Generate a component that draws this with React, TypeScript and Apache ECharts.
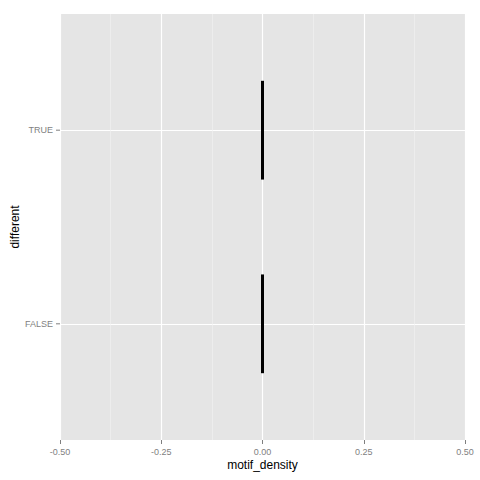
import React, { useEffect, useRef } from "react";
import * as echarts from "echarts";

const categories = ["FALSE", "TRUE"];
const motifDensity = [0, 0];
const xTicks = [-0.5, -0.25, 0, 0.25, 0.5];

export default function App() {
  const ref = useRef<HTMLDivElement>(null);
  useEffect(() => {
    if (!ref.current) return;
    const chart = echarts.init(ref.current, null, { renderer: "svg" });
    const catPos = categories.map((_, i) => i + 1);
    const option: any = {
      animation: false,
      backgroundColor: "#ffffff",
      grid: {
        left: 60,
        right: 15,
        top: 14,
        bottom: 40,
        show: true,
        backgroundColor: "#e5e5e5",
        borderWidth: 0,
        containLabel: false,
        outerBoundsMode: "none",
      },
      xAxis: {
        type: "value",
        min: xTicks[0],
        max: xTicks[xTicks.length - 1],
        interval: 0.25,
        name: "motif_density",
        nameLocation: "middle",
        nameGap: 19,
        nameMoveOverlap: false,
        nameTextStyle: { color: "#000", fontSize: 12, fontFamily: "Liberation Sans, Arial" },
        axisLine: { show: false },
        axisTick: { show: true, length: 4, lineStyle: { color: "#7f7f7f", width: 1 } },
        axisLabel: {
          color: "#7f7f7f",
          fontSize: 9,
          fontFamily: "Liberation Sans, Arial",
          margin: 7,
          showMinLabel: true,
          showMaxLabel: true,
          hideOverlap: false,
          overflow: "none",
          formatter: (v: number) => v.toFixed(2),
        },
        splitLine: { show: true, lineStyle: { color: "#ffffff", width: 1.2 } },
        minorTick: { show: false, splitNumber: 2 },
        minorSplitLine: { show: true, lineStyle: { color: "#f2f2f2", width: 0.6 } },
      },
      yAxis: {
        type: "value",
        min: 0.4,
        max: 2.6,
        name: "different",
        nameLocation: "middle",
        nameGap: 39,
        nameRotate: 90,
        nameMoveOverlap: false,
        nameTextStyle: { color: "#000", fontSize: 12, fontFamily: "Liberation Sans, Arial" },
        axisLine: { show: false },
        axisTick: { show: false, customValues: catPos },
        axisLabel: {
          color: "#7f7f7f",
          fontSize: 9,
          fontFamily: "Liberation Sans, Arial",
          margin: 7,
          customValues: catPos,
          formatter: (v: number) => categories[Math.round(v) - 1] ?? "",
        },
        splitLine: { show: true, lineStyle: { color: "#ffffff", width: 1.2 } },
      },
      series: [
        {
          type: "custom",
          clip: false,
          data: catPos.map((p) => [xTicks[0], p]),
          renderItem: (params: any, api: any) => {
            const pt = api.coord([api.value(0), api.value(1)]);
            return {
              type: "line",
              shape: { x1: pt[0] - 4, y1: pt[1], x2: pt[0], y2: pt[1] },
              style: { stroke: "#7f7f7f", lineWidth: 1 },
            };
          },
        },
        {
          type: "custom",
          data: motifDensity.map((v, i) => [v, i + 1]),
          renderItem: (params: any, api: any) => {
            const x = api.value(0);
            const y = api.value(1);
            const top = api.coord([x, y + 0.255]);
            const bot = api.coord([x, y - 0.255]);
            return {
              type: "rect",
              shape: { x: top[0] - 1.5, y: top[1], width: 3, height: bot[1] - top[1] },
              style: { fill: "#000000" },
            };
          },
        },
      ],
    };
    chart.setOption(option);
    return () => chart.dispose();
  }, []);
  return (
    <div
      ref={ref}
      style={{ position: "fixed", left: 0, top: 0, width: 480, height: 480 }}
    />
  );
}
